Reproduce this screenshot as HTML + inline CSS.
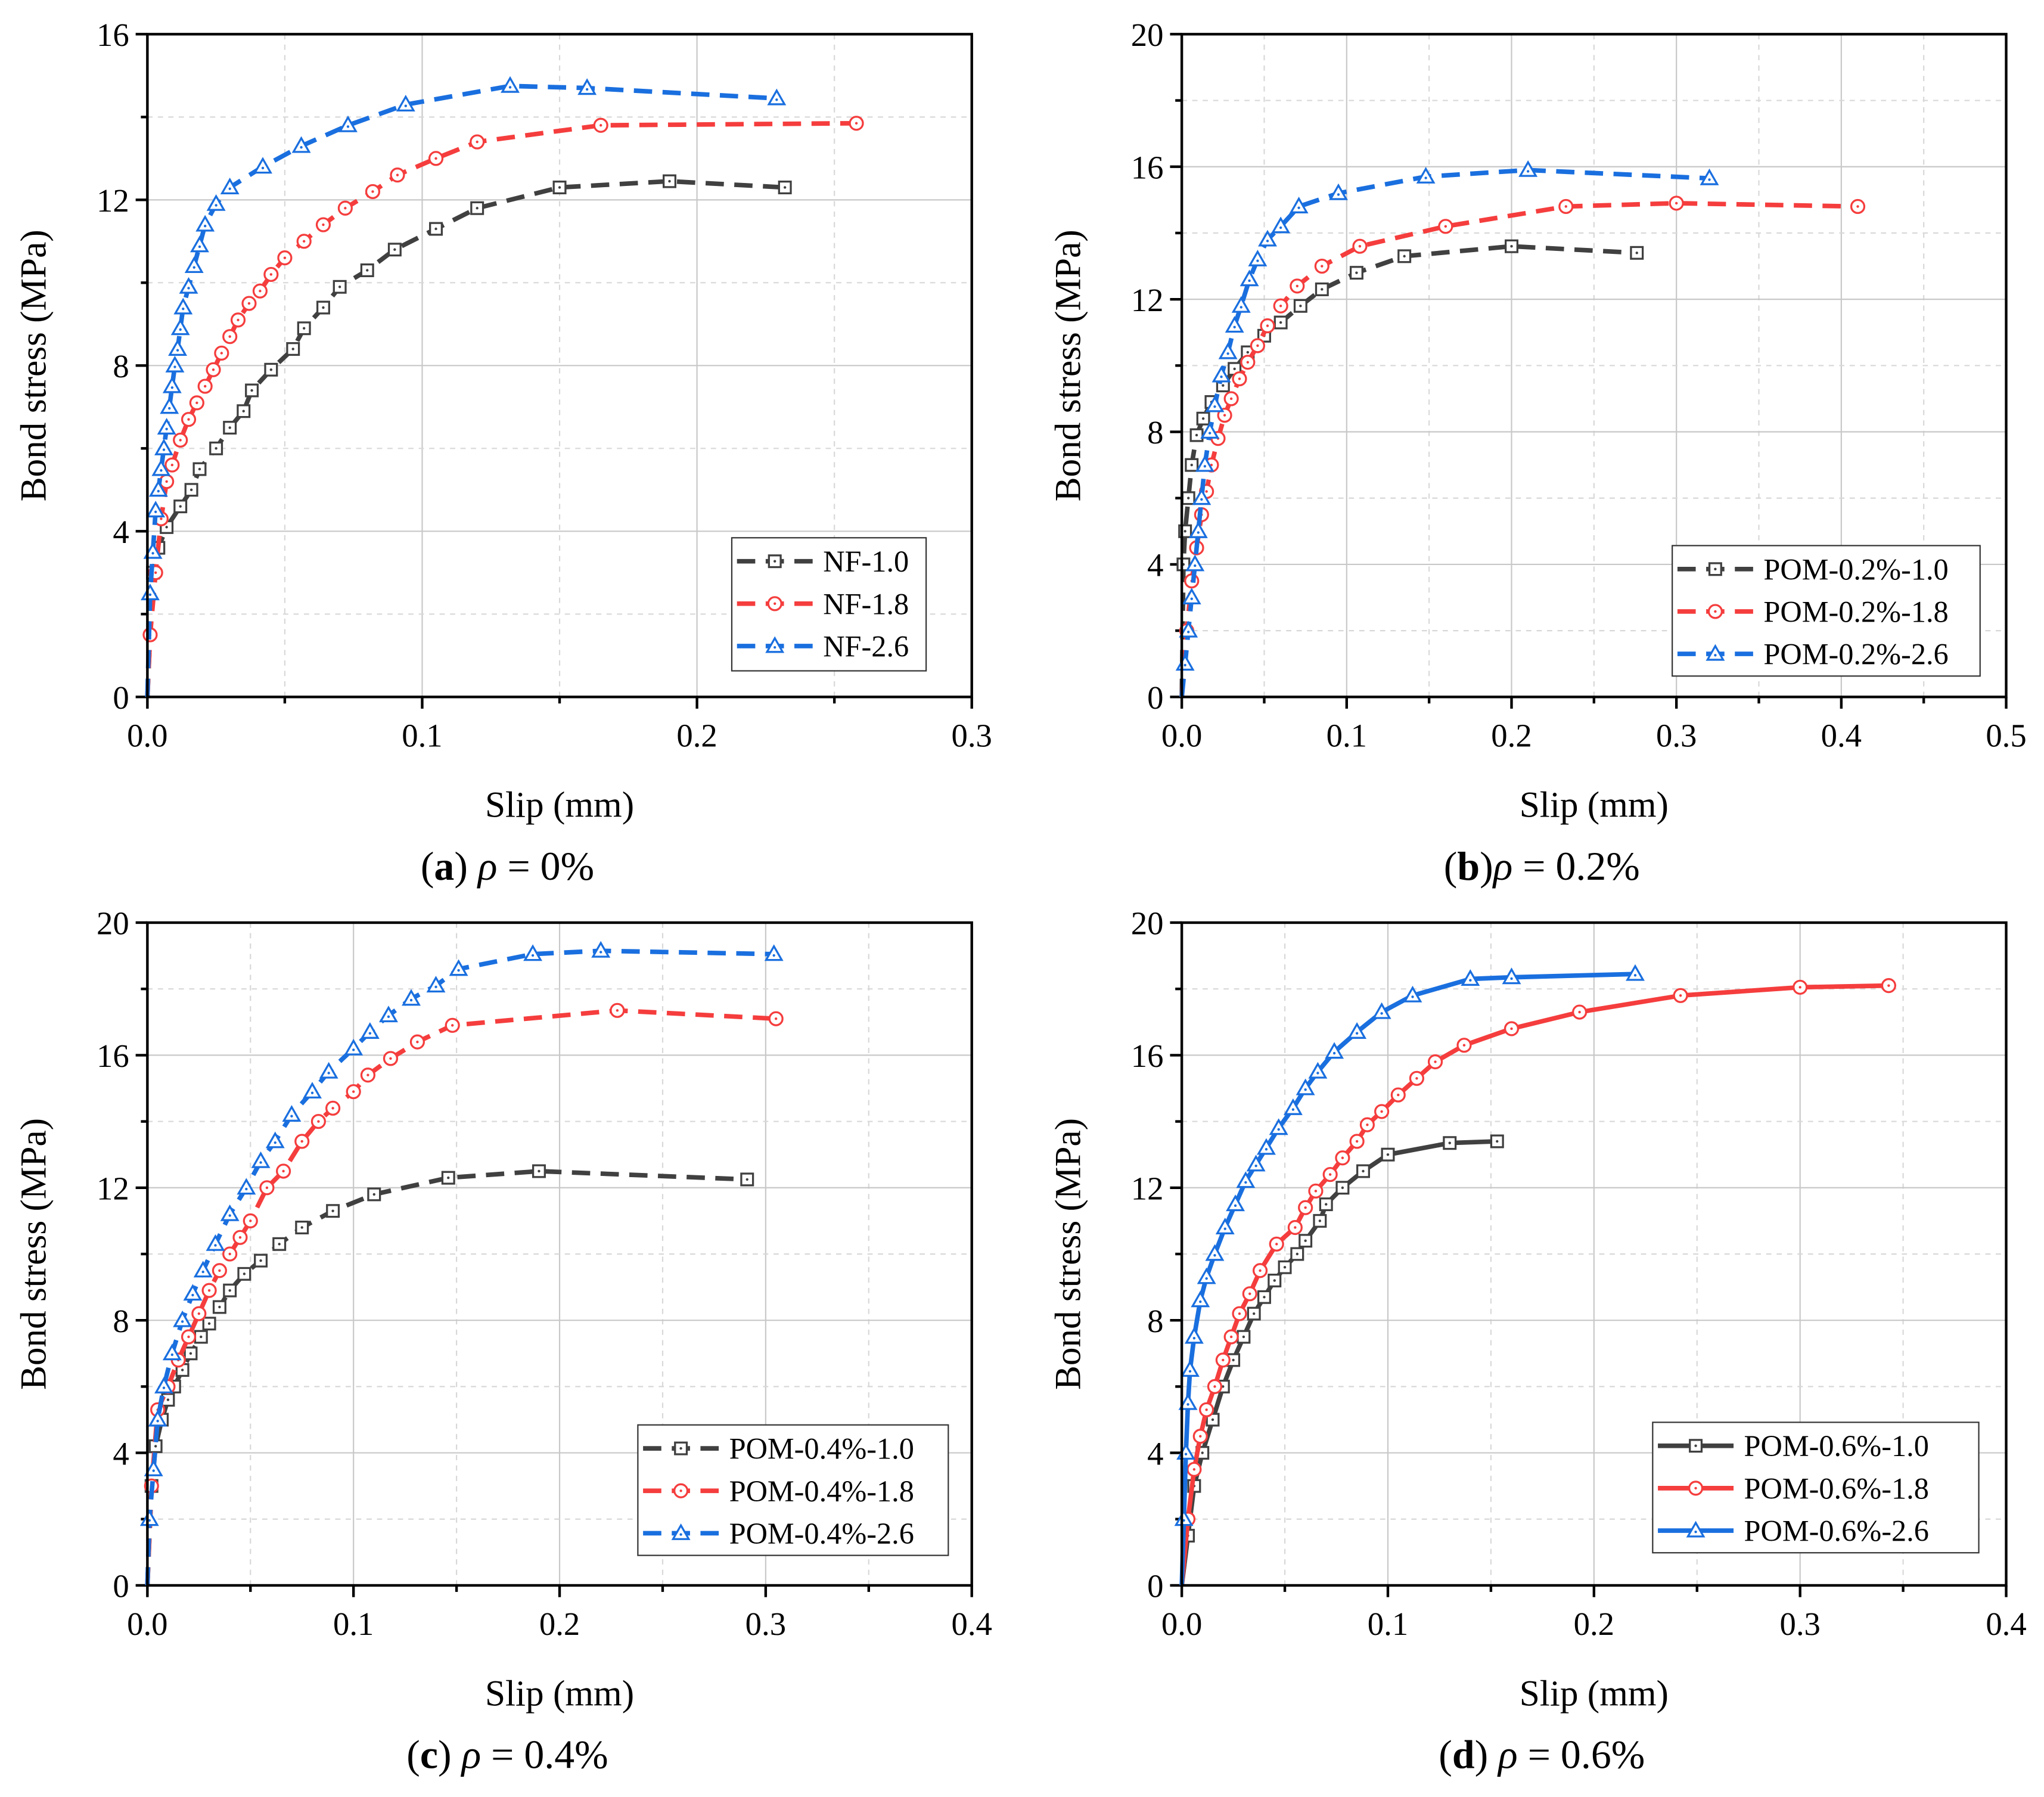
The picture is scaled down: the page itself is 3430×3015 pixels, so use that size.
<!DOCTYPE html>
<html><head><meta charset="utf-8"><style>
html,body{margin:0;padding:0;background:#fff;}
svg{display:block;font-family:"Liberation Serif",serif;}
</style></head><body>
<svg id="fig" width="3430" height="3015" viewBox="0 0 1567 1377" xmlns="http://www.w3.org/2000/svg"></svg>
<script>
// ---------- data ----------
const a_gray_x=[0,0.002,0.004,0.007,0.012,0.016,0.019,0.025,0.03,0.035,0.038,0.045,0.053,0.057,0.064,0.07,0.08,0.09,0.105,0.12,0.15,0.19,0.232];
const a_gray_y=[0,3,3.6,4.1,4.6,5,5.5,6,6.5,6.9,7.4,7.9,8.4,8.9,9.4,9.9,10.3,10.8,11.3,11.8,12.3,12.45,12.3];
const a_red_x=[0,0.001,0.003,0.005,0.007,0.009,0.012,0.015,0.018,0.021,0.024,0.027,0.03,0.033,0.037,0.041,0.045,0.05,0.057,0.064,0.072,0.082,0.091,0.105,0.12,0.165,0.258];
const a_red_y=[0,1.5,3,4.3,5.2,5.6,6.2,6.7,7.1,7.5,7.9,8.3,8.7,9.1,9.5,9.8,10.2,10.6,11,11.4,11.8,12.2,12.6,13,13.4,13.8,13.85];
const a_blue_x=[0,0.001,0.002,0.003,0.004,0.005,0.006,0.007,0.008,0.009,0.01,0.011,0.012,0.013,0.015,0.017,0.019,0.021,0.025,0.03,0.042,0.056,0.073,0.094,0.132,0.16,0.229];
const a_blue_y=[0,2.5,3.5,4.5,5,5.5,6,6.5,7,7.5,8,8.4,8.9,9.4,9.9,10.4,10.9,11.4,11.9,12.3,12.8,13.3,13.8,14.3,14.75,14.7,14.45];

const b_gray_x=[0,0.001,0.002,0.004,0.006,0.009,0.013,0.018,0.025,0.032,0.04,0.05,0.06,0.072,0.085,0.106,0.135,0.2,0.276];
const b_gray_y=[0,4,5,6,7,7.9,8.4,8.9,9.4,9.9,10.4,10.9,11.3,11.8,12.3,12.8,13.3,13.6,13.4];
const b_red_x=[0,0.003,0.006,0.009,0.012,0.015,0.018,0.022,0.026,0.03,0.035,0.04,0.046,0.052,0.06,0.07,0.085,0.108,0.16,0.233,0.3,0.41];
const b_red_y=[0,2,3.5,4.5,5.5,6.2,7,7.8,8.5,9,9.6,10.1,10.6,11.2,11.8,12.4,13,13.6,14.2,14.8,14.9,14.8];
const b_blue_x=[0,0.002,0.004,0.006,0.008,0.01,0.012,0.014,0.017,0.02,0.024,0.028,0.032,0.036,0.041,0.046,0.052,0.06,0.071,0.095,0.148,0.21,0.32];
const b_blue_y=[0,1,2,3,4,5,6,7,8,8.8,9.7,10.4,11.2,11.8,12.6,13.2,13.8,14.2,14.8,15.2,15.7,15.9,15.65];

const c_gray_x=[0,0.002,0.004,0.007,0.01,0.013,0.017,0.021,0.026,0.03,0.035,0.04,0.047,0.055,0.064,0.075,0.09,0.11,0.146,0.19,0.291];
const c_gray_y=[0,3,4.2,5,5.6,6,6.5,7,7.5,7.9,8.4,8.9,9.4,9.8,10.3,10.8,11.3,11.8,12.3,12.5,12.25];
const c_red_x=[0,0.002,0.005,0.01,0.015,0.02,0.025,0.03,0.035,0.04,0.045,0.05,0.058,0.066,0.075,0.083,0.09,0.1,0.107,0.118,0.131,0.148,0.228,0.305];
const c_red_y=[0,3,5.3,6,6.8,7.5,8.2,8.9,9.5,10,10.5,11,12,12.5,13.4,14,14.4,14.9,15.4,15.9,16.4,16.9,17.35,17.1];
const c_blue_x=[0,0.001,0.003,0.005,0.008,0.012,0.017,0.022,0.027,0.033,0.04,0.048,0.055,0.062,0.07,0.08,0.088,0.1,0.108,0.117,0.128,0.14,0.151,0.187,0.22,0.304];
const c_blue_y=[0,2,3.5,5,6,7,8,8.8,9.5,10.3,11.2,12,12.8,13.4,14.2,14.9,15.5,16.2,16.7,17.2,17.7,18.1,18.6,19.05,19.15,19.05];

const d_gray_x=[0,0.003,0.006,0.01,0.015,0.02,0.025,0.03,0.035,0.04,0.045,0.05,0.056,0.06,0.067,0.07,0.078,0.088,0.1,0.13,0.153];
const d_gray_y=[0,1.5,3,4,5,6,6.8,7.5,8.2,8.7,9.2,9.6,10,10.4,11,11.5,12,12.5,13,13.35,13.4];
const d_red_x=[0,0.003,0.006,0.009,0.012,0.016,0.02,0.024,0.028,0.033,0.038,0.046,0.055,0.06,0.065,0.072,0.078,0.085,0.09,0.097,0.105,0.114,0.123,0.137,0.16,0.193,0.242,0.3,0.343];
const d_red_y=[0,2,3.5,4.5,5.3,6,6.8,7.5,8.2,8.8,9.5,10.3,10.8,11.4,11.9,12.4,12.9,13.4,13.9,14.3,14.8,15.3,15.8,16.3,16.8,17.3,17.8,18.05,18.1];
const d_blue_x=[0,0.001,0.002,0.003,0.004,0.006,0.009,0.012,0.016,0.021,0.026,0.031,0.036,0.041,0.047,0.054,0.06,0.066,0.074,0.085,0.097,0.112,0.14,0.16,0.22];
const d_blue_y=[0,2,4,5.5,6.5,7.5,8.6,9.3,10,10.8,11.5,12.2,12.7,13.2,13.8,14.4,15,15.5,16.1,16.7,17.3,17.8,18.3,18.35,18.45];

const xticks_a=["0.0","0.1","0.2","0.3"], xticks_b=["0.0","0.1","0.2","0.3","0.4","0.5"], xticks_cd=["0.0","0.1","0.2","0.3","0.4"];
const yticks_a=["0","4","8","12","16"], yticks_bcd=["0","4","8","12","16","20"];
const legend_a=["NF-1.0","NF-1.8","NF-2.6"];
const legend_b=["POM-0.2%-1.0","POM-0.2%-1.8","POM-0.2%-2.6"];
const legend_c=["POM-0.4%-1.0","POM-0.4%-1.8","POM-0.4%-2.6"];
const legend_d=["POM-0.6%-1.0","POM-0.6%-1.8","POM-0.6%-2.6"];

// ---------- drawing ----------
const NS="http://www.w3.org/2000/svg";
const svg=document.getElementById('fig');
const COLORS=["#404040","#f53d3d","#1a6fdf"];
const MARK=["sq","ci","tr"];
function mk(tag,attrs,parent){const e=document.createElementNS(NS,tag);for(const k in attrs)e.setAttribute(k,attrs[k]);(parent||svg).appendChild(e);return e;}
function marker(g,type,x,y,col){
  let e;
  if(type==="sq")e=mk('rect',{x:x-4.5,y:y-4.5,width:9,height:9,fill:'#fff',stroke:col,'stroke-width':1.5},g);
  else if(type==="ci")e=mk('circle',{cx:x,cy:y,r:5,fill:'#fff',stroke:col,'stroke-width':1.5},g);
  else e=mk('polygon',{points:`${x},${y-6} ${x-6},${y+4.5} ${x+6},${y+4.5}`,fill:'#fff',stroke:col,'stroke-width':1.5},g);
  
  
  const d=mk('circle',{cx:x,cy:y+(type==="tr"?1:0),r:1,fill:col},g);
  
  
}
function panel(id,L,T,W,H,xmax,ymax,xt,yt,series,legend,leg,dashed,cap,rho){
  const g=mk('g',{});
  
  
  const X=v=>L+v/xmax*W, Y=v=>T+H-v/ymax*H;
  const nx=xt.length-1, ny=yt.length-1;
  for(let i=0;i<=nx*2;i++){const xv=xmax*i/(nx*2);const px=X(xv);
    if(i>0&&i<nx*2){const l=mk('line',{x1:px,y1:T,x2:px,y2:T+H,stroke:i%2?'#d8d8d8':'#c8c8c8','stroke-width':1,'stroke-dasharray':i%2?'4 4':''},g);
      }
    mk('line',{x1:px,y1:T+H,x2:px,y2:T+H+(i%2?5:9),stroke:'#000','stroke-width':2},g);}
  for(let i=0;i<=ny*2;i++){const yv=ymax*i/(ny*2);const py=Y(yv);
    if(i>0&&i<ny*2){const l=mk('line',{x1:L,y1:py,x2:L+W,y2:py,stroke:i%2?'#d8d8d8':'#c8c8c8','stroke-width':1,'stroke-dasharray':i%2?'4 4':''},g);
      }
    mk('line',{x1:L,y1:py,x2:L-(i%2?5:9),y2:py,stroke:'#000','stroke-width':2},g);}
  xt.forEach((t,i)=>{const e=mk('text',{x:X(xmax*i/nx),y:T+H+38,'font-size':25,'text-anchor':'middle'},g);e.textContent=t;
    });
  yt.forEach((t,i)=>{const e=mk('text',{x:L-14,y:Y(ymax*i/ny)+9,'font-size':25,'text-anchor':'end'},g);e.textContent=t;
    });
  series.forEach((s,k)=>{
    const pts=s[0].map((v,i)=>X(v)+','+Y(s[1][i])).join(' ');
    const pl=mk('polyline',{points:pts,fill:'none',stroke:COLORS[k],'stroke-width':3.5,'stroke-dasharray':dashed?'14 8':'','stroke-linejoin':'round'},g);
    
    
    s[0].forEach((v,i)=>{if(i>0)marker(g,MARK[k],X(v),Y(s[1][i]),COLORS[k]);});
  });
  const fr=mk('rect',{x:L,y:T,width:W,height:H,fill:'none',stroke:'#000','stroke-width':2},g);
  
  // legend
  const lg=mk('g',{},g);
  mk('rect',{x:leg[0],y:leg[1],width:leg[2],height:leg[3],fill:'#fff',stroke:'#333','stroke-width':1},lg);
  legend.forEach((t,k)=>{const ry=leg[1]+18+k*32.5;
    const le=mk('g',{},lg);
    mk('line',{x1:leg[0]+4,y1:ry,x2:leg[0]+62,y2:ry,stroke:COLORS[k],'stroke-width':3.5,'stroke-dasharray':dashed?'14 8':''},le);
    marker(le,MARK[k],leg[0]+33,ry,COLORS[k]);
    const e=mk('text',{x:leg[0]+70,y:ry+8,'font-size':23},le);e.textContent=t;});
  const yl=mk('text',{x:0,y:0,'font-size':28,'text-anchor':'middle',transform:`translate(${L-78},${T+H/2}) rotate(-90)`},g);
  yl.textContent='Bond stress (MPa)';
  const xl=mk('text',{x:L+W/2,y:T+H+92,'font-size':28,'text-anchor':'middle'},g);
  xl.textContent='Slip (mm)';
  const c=mk('text',{x:L+W/2-40,y:T+H+140,'font-size':31,'text-anchor':'middle'},g);
  
  c.innerHTML=`(<tspan font-weight="bold">${cap}</tspan>)${id==='b'||id==='d'&&false?'':' '}<tspan font-style="italic">ρ</tspan> = ${rho}`;
}
panel('a',113,26,632,508,0.3,16,xticks_a,yticks_a,[[a_gray_x,a_gray_y],[a_red_x,a_red_y],[a_blue_x,a_blue_y]],legend_a,[561,412,149,102],true,'a','0%');
panel('b',906,26,632,508,0.5,20,xticks_b,yticks_bcd,[[b_gray_x,b_gray_y],[b_red_x,b_red_y],[b_blue_x,b_blue_y]],legend_b,[1282,418,236,100],true,'b','0.2%');
panel('c',113,707,632,508,0.4,20,xticks_cd,yticks_bcd,[[c_gray_x,c_gray_y],[c_red_x,c_red_y],[c_blue_x,c_blue_y]],legend_c,[489,1092,238,100],true,'c','0.4%');
panel('d',906,707,632,508,0.4,20,xticks_cd,yticks_bcd,[[d_gray_x,d_gray_y],[d_red_x,d_red_y],[d_blue_x,d_blue_y]],legend_d,[1267,1090,250,100],false,'d','0.6%');
</script>
</body></html>
